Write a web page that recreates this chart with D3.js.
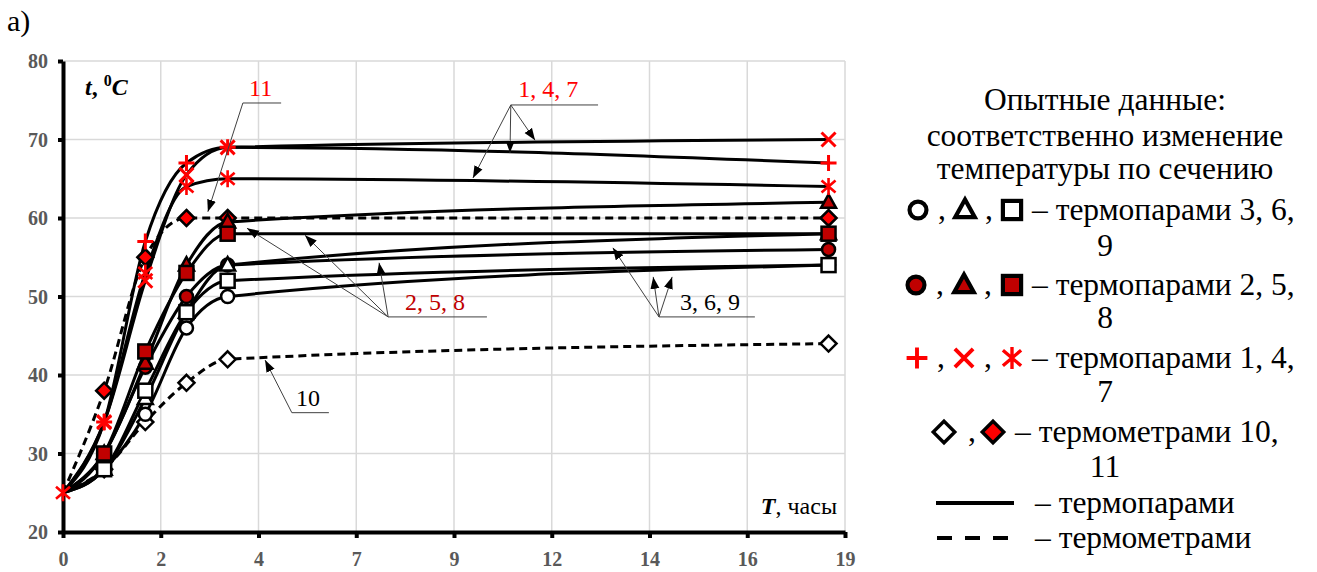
<!DOCTYPE html>
<html><head><meta charset="utf-8">
<script src="https://cdn.jsdelivr.net/npm/d3@7"></script>
<style>
html,body{margin:0;padding:0;background:#fff;}
svg{display:block;}
text{font-family:"Liberation Serif","DejaVu Serif","Times New Roman",serif;}
</style></head><body>
<svg id="chart" width="1317" height="572"></svg>
<script>
// Time of measurement, hours
const hours = [0, 1, 2, 3, 4, 18.6];

// Thermocouples 1, 4, 7 (red +, x, *)
const tc1 = [25, 34, 57, 67, 69, 67];
const tc4 = [25, 34, 52, 65.5, 69, 70];
const tc7 = [25, 34, 53, 64, 65, 64];
// Thermocouples 2, 5, 8 (dark red circle, triangle, square)
const tc2 = [25, 30, 41, 50, 54, 56];
const tc5 = [25, 30, 41.5, 54, 59.5, 62];
const tc8 = [25, 30, 43, 53, 58, 58];
// Thermocouples 3, 6, 9 (white circle, triangle, square)
const tc3 = [25, 28, 35, 46, 50, 54];
const tc6 = [25, 28, 37, 48, 54, 58];
const tc9 = [25, 28, 38, 48, 52, 54];
// Thermometers 10, 11 (white and red diamonds)
const th10 = [25, 28, 34, 39, 42, 44];
const th11 = [25, 38, 55, 60, 60, 60];

const yTicks = [20, 30, 40, 50, 60, 70, 80];
const xTickValues = d3.range(9).map(i => i * 19 / 8);
const xTickLabels = ["0", "2", "4", "7", "9", "12", "14", "16", "19"];

const RED = "#ff0000", DARK_RED = "#c00000";

// draw order: later series sit on top; the common starting point is marked once
const series = [
  {v: th10, m: "diamond", fill: "#fff", dashed: true},
  {v: th11, m: "diamond", fill: RED, dashed: true},
  {v: tc2, m: "circle", fill: DARK_RED},
  {v: tc5, m: "triangle", fill: DARK_RED},
  {v: tc3, m: "circle", fill: "#fff"},
  {v: tc6, m: "triangle", fill: "#fff"},
  {v: tc9, m: "square", fill: "#fff"},
  {v: tc8, m: "square", fill: DARK_RED},
  {v: tc1, m: "plus"},
  {v: tc4, m: "cross"},
  {v: tc7, m: "star", markStart: true}
];

const svg = d3.select("#chart");
const x = d3.scaleLinear([0, 19], [63, 845]);
const y = d3.scaleLinear([20, 80], [532, 61]);

// arrowhead for leader lines
svg.append("defs").append("marker")
  .attr("id", "arr").attr("viewBox", "0 0 12 10")
  .attr("refX", 12).attr("refY", 5)
  .attr("markerWidth", 12).attr("markerHeight", 10)
  .attr("markerUnits", "userSpaceOnUse").attr("orient", "auto")
  .append("path").attr("d", "M0,0.5L12,5L0,9.5Z").attr("fill", "#000");

// grid
const grid = svg.append("g");
grid.selectAll("line.h").data(yTicks.slice(1)).join("line")
  .attr("x1", x(0)).attr("x2", x(19))
  .attr("y1", d => y(d)).attr("y2", d => y(d))
  .attr("stroke", "#d9d9d9").attr("stroke-width", 1.5);
grid.selectAll("line.v").data(xTickValues.slice(1)).join("line")
  .attr("x1", d => x(d)).attr("x2", d => x(d))
  .attr("y1", y(20)).attr("y2", y(80))
  .attr("stroke", "#d9d9d9").attr("stroke-width", 1.5);

// axes
const yAxis = svg.append("g").attr("transform", `translate(${x(0)},0)`)
  .call(d3.axisLeft(y).tickValues(yTicks).tickSize(5).tickSizeOuter(0).tickPadding(10));
const xAxis = svg.append("g").attr("transform", `translate(0,${y(20)})`)
  .call(d3.axisBottom(x).tickValues(xTickValues).tickFormat((d, i) => xTickLabels[i])
    .tickSize(6).tickSizeOuter(0).tickPadding(10));
[yAxis, xAxis].forEach(a => {
  a.select(".domain").attr("stroke", "#000").attr("stroke-width", 4);
  a.selectAll(".tick line").attr("stroke", "#000").attr("stroke-width", 4);
  a.selectAll(".tick text").attr("fill", "#595959")
    .attr("font-weight", "bold").attr("font-size", 20);
});
yAxis.selectAll(".tick text").attr("dy", "0.34em");
xAxis.selectAll(".tick text").attr("dy", "0.9em");

// curves
const line = d3.line().x((d, i) => x(hours[i])).y(d => y(d)).curve(d3.curveMonotoneX);
svg.append("g").selectAll("path").data(series).join("path")
  .attr("d", s => line(s.v)).attr("fill", "none").attr("stroke", "#000")
  .attr("stroke-width", 3).attr("stroke-dasharray", s => s.dashed ? "8,5" : null);

// marker shapes
function drawMarker(g, type, fill, k) {
  k = k || 1;
  if (type === "circle") {
    g.append("circle").attr("r", 6.5 * k).attr("fill", fill).attr("stroke", "#000").attr("stroke-width", 2.5 * k);
  } else if (type === "triangle") {
    g.append("path").attr("d", `M0,${-8 * k}L${7.5 * k},${5.5 * k}L${-7.5 * k},${5.5 * k}Z`)
      .attr("fill", fill).attr("stroke", "#000").attr("stroke-width", 2.5 * k).attr("stroke-linejoin", "miter");
  } else if (type === "square") {
    g.append("rect").attr("x", -7 * k).attr("y", -7 * k).attr("width", 14 * k).attr("height", 14 * k)
      .attr("fill", fill).attr("stroke", "#000").attr("stroke-width", 2.5 * k);
  } else if (type === "diamond") {
    g.append("path").attr("d", `M0,${-8 * k}L${8 * k},0L0,${8 * k}L${-8 * k},0Z`)
      .attr("fill", fill).attr("stroke", "#000").attr("stroke-width", 2.5 * k);
  } else if (type === "plus") {
    g.append("path").attr("d", `M${-8 * k},0H${8 * k}M0,${-8 * k}V${8 * k}`)
      .attr("stroke", RED).attr("stroke-width", 3 * k).attr("fill", "none");
  } else if (type === "cross") {
    g.append("path").attr("d", `M${-7 * k},${-7 * k}L${7 * k},${7 * k}M${7 * k},${-7 * k}L${-7 * k},${7 * k}`)
      .attr("stroke", RED).attr("stroke-width", 3 * k).attr("fill", "none");
  } else if (type === "star") {
    g.append("path").attr("d", `M${-7 * k},${-6 * k}L${7 * k},${6 * k}M${7 * k},${-6 * k}L${-7 * k},${6 * k}M0,${-8.5 * k}V${8.5 * k}`)
      .attr("stroke", RED).attr("stroke-width", 2.6 * k).attr("fill", "none");
  }
}

const mk = svg.append("g");
series.forEach(s => {
  s.v.forEach((val, i) => {
    if (i === 0 && !s.markStart) return;
    const g = mk.append("g").attr("transform", `translate(${x(hours[i])},${y(val)})`);
    drawMarker(g, s.m, s.fill);
  });
});

// leader annotations (positions in hours / °C)
const notes = [
  {text: "1, 4, 7", color: RED, ox: 10.88, oy: 74.4, ex: 13.0, tx: 11.06, ty: 75.4,
   tips: [[11.47, 69.9], [10.86, 68.3], [9.96, 65.1]]},
  {text: "2, 5, 8", color: DARK_RED, ox: 7.90, oy: 47.4, ex: 10.30, tx: 8.31, ty: 48.3,
   tips: [[4.47, 58.7], [5.88, 57.8], [7.68, 54.3]]},
  {text: "3, 6, 9", color: "#000", ox: 14.48, oy: 47.4, ex: 16.81, tx: 14.99, ty: 48.3,
   tips: [[13.36, 56.2], [14.34, 52.5], [14.80, 52.5]]},
  {text: "11", color: RED, ox: 4.37, oy: 74.65, ex: 5.30, tx: 4.52, ty: 75.5,
   tips: [[3.52, 60.8]]},
  {text: "10", color: "#000", ox: 5.56, oy: 35.2, ex: 6.46, tx: 5.66, ty: 36.1,
   tips: [[4.91, 41.9]]}
];
const ng = svg.append("g");
notes.forEach(n => {
  ng.append("line").attr("x1", x(n.ox)).attr("x2", x(n.ex)).attr("y1", y(n.oy)).attr("y2", y(n.oy))
    .attr("stroke", "#404040").attr("stroke-width", 1);
  n.tips.forEach(t => {
    ng.append("line").attr("x1", x(n.ox)).attr("y1", y(n.oy)).attr("x2", x(t[0])).attr("y2", y(t[1]))
      .attr("stroke", "#404040").attr("stroke-width", 1).attr("marker-end", "url(#arr)");
  });
  ng.append("text").attr("x", x(n.tx)).attr("y", y(n.ty)).attr("fill", n.color)
    .attr("font-size", 24).text(n.text);
});

// axis titles
const yt = svg.append("text").attr("x", 85).attr("y", 95).attr("font-size", 24).attr("font-weight", "bold");
yt.append("tspan").attr("font-style", "italic").text("t");
yt.append("tspan").text(", ");
yt.append("tspan").attr("font-size", 16).attr("dy", -9).text("0");
yt.append("tspan").attr("font-style", "italic").attr("dy", 9).text("C");

const xt = svg.append("text").attr("x", 837).attr("y", 514).attr("font-size", 24).attr("text-anchor", "end");
xt.append("tspan").attr("font-style", "italic").attr("font-weight", "bold").text("T");
xt.append("tspan").text(", часы");

svg.append("text").attr("x", 7).attr("y", 31).attr("font-size", 30).text("a)");

// legend
const L = svg.append("g").attr("font-size", 31.5).attr("fill", "#000");
const cx = 1105;
[["Опытные данные:", 110], ["соответственно изменение", 146], ["температуры по сечению", 179],
 ["9", 256], ["8", 328], ["7", 402], ["11", 477]].forEach(([t, yy]) =>
  L.append("text").attr("x", cx).attr("y", yy).attr("text-anchor", "middle").text(t));

const rows = [
  {y: 210, syms: [["circle", "#fff", 918], ["triangle", "#fff", 965], ["square", "#fff", 1012]], text: "– термопарами 3, 6,", tx: 1032},
  {y: 285, syms: [["circle", DARK_RED, 916], ["triangle", DARK_RED, 964], ["square", DARK_RED, 1012]], text: "– термопарами 2, 5,", tx: 1032},
  {y: 358, syms: [["plus", null, 917], ["cross", null, 964], ["star", null, 1012]], text: "– термопарами 1, 4,", tx: 1032},
  {y: 432, syms: [["diamond", "#fff", 944], ["diamond", RED, 993]], text: "– термометрами 10,", tx: 1015}
];
rows.forEach(r => {
  r.syms.forEach((s, i) => {
    const g = L.append("g").attr("transform", `translate(${s[2]},${r.y})`);
    drawMarker(g, s[0], s[1], s[0] === "diamond" ? 1.35 : 1.3);
    if (s[0] === "circle" || s[0] === "square" || s[0] === "triangle") {
      g.selectAll("circle,rect,path").attr("stroke-width", 4.2);
    }
    if (i < r.syms.length - 1) {
      L.append("text").attr("x", s[2] + (s[0] === "diamond" ? 24 : 20)).attr("y", r.y + 9).text(",");
    }
  });
  L.append("text").attr("x", r.tx).attr("y", r.y + 10).text(r.text);
});
L.append("line").attr("x1", 936).attr("x2", 1014).attr("y1", 503).attr("y2", 503)
  .attr("stroke", "#000").attr("stroke-width", 4);
L.append("text").attr("x", 1035).attr("y", 513).text("– термопарами");
L.append("line").attr("x1", 937).attr("x2", 1008).attr("y1", 538).attr("y2", 538)
  .attr("stroke", "#000").attr("stroke-width", 4).attr("stroke-dasharray", "15,13");
L.append("text").attr("x", 1035).attr("y", 548).text("– термометрами");
</script>
</body></html>
